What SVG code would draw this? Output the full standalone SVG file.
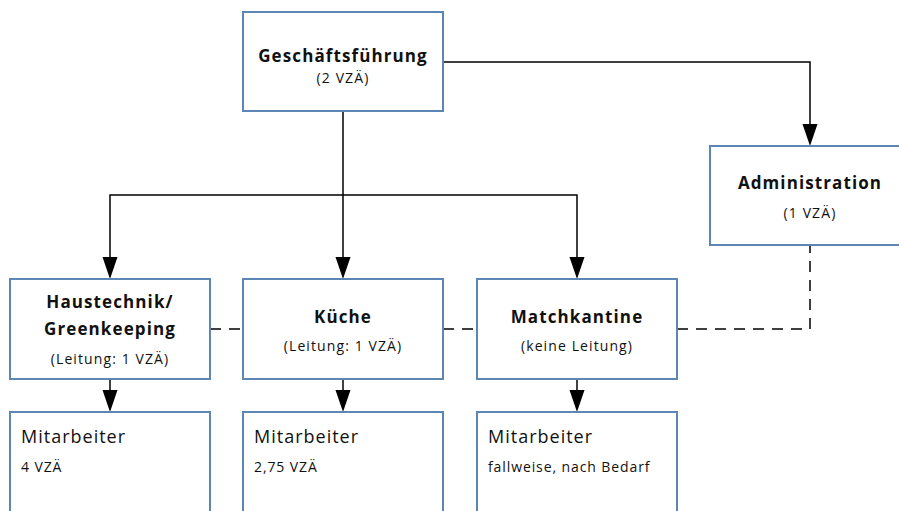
<svg xmlns="http://www.w3.org/2000/svg" width="899" height="511" viewBox="0 0 899 511">
<style>
.box{fill:#fff;stroke:#5b86b5;stroke-width:2}
.ln{fill:none;stroke:#000;stroke-width:1.5}
.dash{fill:none;stroke:#000;stroke-width:1.5;stroke-dasharray:11,8}
.ah{fill:#000}
.t{font-family:"Open Sans","Liberation Sans",sans-serif;fill:#111;text-anchor:middle}
.b{font-weight:bold;font-size:17px;letter-spacing:1.1px}
.s{font-size:14px;letter-spacing:1.1px}
.m{font-family:"Open Sans","Liberation Sans",sans-serif;fill:#111;font-size:18px;letter-spacing:1px}
.ms{font-family:"Open Sans","Liberation Sans",sans-serif;fill:#111;font-size:14px;letter-spacing:0.9px}
</style>
<g id="connectors">
<path class="ln" d="M443,62 H810 V126"/>
<path class="ln" d="M343,111 V260"/>
<path class="ln" d="M110,260 V195 H577 V260"/>
<path class="ah" d="M102.5,257 L117.5,257 L110,279 Z"/>
<path class="ah" d="M335.5,257 L350.5,257 L343,279 Z"/>
<path class="ah" d="M569.5,257 L584.5,257 L577,279 Z"/>
<path class="ah" d="M802.5,124 L817.5,124 L810,146 Z"/>
<path class="ln" d="M110,379 V392"/>
<path class="ln" d="M343,379 V392"/>
<path class="ln" d="M577,379 V392"/>
<path class="ah" d="M102.5,390 L117.5,390 L110,412 Z"/>
<path class="ah" d="M335.5,390 L350.5,390 L343,412 Z"/>
<path class="ah" d="M569.5,390 L584.5,390 L577,412 Z"/>
<path class="dash" d="M210,329 H243"/>
<path class="dash" d="M443,329 H477"/>
<path class="dash" d="M677,329 H810 V245"/>
</g>
<g id="geschaeftsfuehrung">
<rect class="box" x="243" y="12" width="200" height="99"/>
<text class="t b" x="343" y="62">Geschäftsführung</text>
<text class="t s" x="343" y="83">(2 VZÄ)</text>
</g>
<g id="administration">
<rect class="box" x="710" y="146" width="200" height="99"/>
<text class="t b" x="810" y="189">Administration</text>
<text class="t s" x="810" y="218">(1 VZÄ)</text>
</g>
<g id="haustechnik">
<rect class="box" x="10" y="279" width="200" height="100"/>
<text class="t b" x="110" y="308">Haustechnik/</text>
<text class="t b" x="110" y="335">Greenkeeping</text>
<text class="t s" x="110" y="364">(Leitung: 1 VZÄ)</text>
</g>
<g id="kueche">
<rect class="box" x="243" y="279" width="200" height="100"/>
<text class="t b" x="343" y="323">Küche</text>
<text class="t s" x="343" y="351">(Leitung: 1 VZÄ)</text>
</g>
<g id="matchkantine">
<rect class="box" x="477" y="279" width="200" height="100"/>
<text class="t b" x="577" y="323">Matchkantine</text>
<text class="t s" x="577" y="351">(keine Leitung)</text>
</g>
<g id="mitarbeiter1">
<rect class="box" x="10" y="412" width="200" height="110"/>
<text class="m" x="21" y="443">Mitarbeiter</text>
<text class="ms" x="21" y="472">4 VZÄ</text>
</g>
<g id="mitarbeiter2">
<rect class="box" x="243" y="412" width="200" height="110"/>
<text class="m" x="254" y="443">Mitarbeiter</text>
<text class="ms" x="254" y="472">2,75 VZÄ</text>
</g>
<g id="mitarbeiter3">
<rect class="box" x="477" y="412" width="200" height="110"/>
<text class="m" x="488" y="443">Mitarbeiter</text>
<text class="ms" x="488" y="472">fallweise, nach Bedarf</text>
</g>
</svg>
